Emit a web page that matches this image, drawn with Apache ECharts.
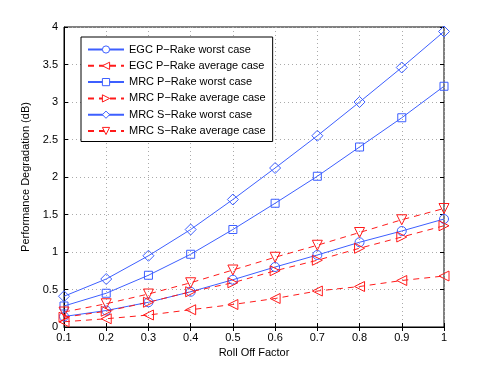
<!DOCTYPE html>
<html><head><meta charset="utf-8">
<script src="https://cdn.jsdelivr.net/npm/echarts@6/dist/echarts.min.js"></script>
<style>html,body{margin:0;padding:0;background:#fff}#c{width:491px;height:369px}</style>
</head><body><div id="c"></div>
<script>
const rollOff = [0.1,0.2,0.3,0.4,0.5,0.6,0.7,0.8,0.9,1.0];
const egcPWorst = [0.14,0.22,0.33,0.47,0.63,0.80,0.96,1.13,1.28,1.44];
const egcPAvg   = [0.07,0.11,0.16,0.23,0.30,0.38,0.48,0.54,0.62,0.68];
const mrcPWorst = [0.28,0.45,0.69,0.97,1.30,1.65,2.01,2.40,2.79,3.21];
const mrcPAvg   = [0.13,0.21,0.33,0.47,0.59,0.75,0.89,1.05,1.20,1.35];
const mrcSWorst = [0.41,0.64,0.95,1.30,1.70,2.12,2.55,3.00,3.46,3.94];
const mrcSAvg   = [0.20,0.31,0.44,0.59,0.76,0.93,1.09,1.26,1.43,1.58];
const names = ['EGC P\u2212Rake worst case','EGC P\u2212Rake average case','MRC P\u2212Rake worst case','MRC P\u2212Rake average case','MRC S\u2212Rake worst case','MRC S\u2212Rake average case'];

const BLUE = '#3d5fff', RED = '#ff1a1a';
const colors = [BLUE, RED, BLUE, RED, BLUE, RED];
function pts(v){ return rollOff.map((x,i)=>[x,v[i]]); }
function mk(name, data, color, dashed, symbol, size, rot){
  return {
    name, type:'line', data:pts(data), symbol, symbolSize:size, symbolRotate:rot||0,
    showAllSymbol:true,
    lineStyle:{color, width:1, type: dashed ? [6,5] : 'solid'},
    itemStyle:{color:'rgba(0,0,0,0)', borderColor:color, borderWidth:1},
    emphasis:{disabled:true}, animation:false
  };
}
const font = 'Liberation Sans, Arial, sans-serif';
const chart = echarts.init(document.getElementById('c'));
chart.setOption({
  animation:false,
  textStyle:{fontFamily:font},
  grid:{left:64, right:47, top:27, bottom:42, show:true, borderColor:'#000', borderWidth:1, backgroundColor:'transparent'},
  legend:{
    orient:'vertical', left:81, top:37, itemWidth:36, itemHeight:9, itemGap:5.3,
    backgroundColor:'#fff', borderColor:'#000', borderWidth:1, borderRadius:0,
    padding:[7,7,5,6],
    textStyle:{fontSize:11, color:'#000', fontFamily:font},
    data:names.map((n,i)=>({name:n, itemStyle:{color:'#fff', borderColor:colors[i], borderWidth:1}}))
  },
  xAxis:[{
    type:'value', min:0.1, max:1, interval:0.1,
    name:'Roll Off Factor', nameLocation:'middle', nameGap:20,
    nameTextStyle:{fontSize:11, color:'#000'},
    axisLine:{lineStyle:{color:'#000'}},
    axisTick:{inside:true, length:4, lineStyle:{color:'#000'}},
    axisLabel:{fontSize:11, color:'#000', margin:5, formatter:v=>String(Math.round(v*10)/10)},
    splitLine:{show:true, lineStyle:{color:'#aaa', type:[1,3]}}
  },{
    type:'value', min:0.1, max:1, interval:0.1, position:'top',
    axisLine:{show:false}, axisTick:{inside:true, length:4, lineStyle:{color:'#000'}},
    axisLabel:{show:false}, splitLine:{show:false}
  }],
  yAxis:[{
    type:'value', min:0, max:4, interval:0.5,
    name:'Performance Degradation (dB)', nameLocation:'middle', nameGap:25,
    nameTextStyle:{fontSize:11, color:'#000'},
    axisLine:{show:true, lineStyle:{color:'#000'}},
    axisTick:{show:true, inside:true, length:4, lineStyle:{color:'#000'}},
    axisLabel:{fontSize:11, color:'#000', margin:6},
    splitLine:{show:true, lineStyle:{color:'#aaa', type:[1,3]}}
  },{
    type:'value', min:0, max:4, interval:0.5, position:'right',
    axisLine:{show:false}, axisTick:{show:true, inside:true, length:4, lineStyle:{color:'#000'}},
    axisLabel:{show:false}, splitLine:{show:false}
  }],
  series:[
    mk(names[0], egcPWorst, BLUE, false, 'circle', 9),
    mk(names[1], egcPAvg, RED, true, 'triangle', 10, 90),
    mk(names[2], mrcPWorst, BLUE, false, 'rect', 8),
    mk(names[3], mrcPAvg, RED, true, 'triangle', 10, -90),
    mk(names[4], mrcSWorst, BLUE, false, 'diamond', 11),
    mk(names[5], mrcSAvg, RED, true, 'triangle', 10, 180)
  ]
});
</script></body></html>
